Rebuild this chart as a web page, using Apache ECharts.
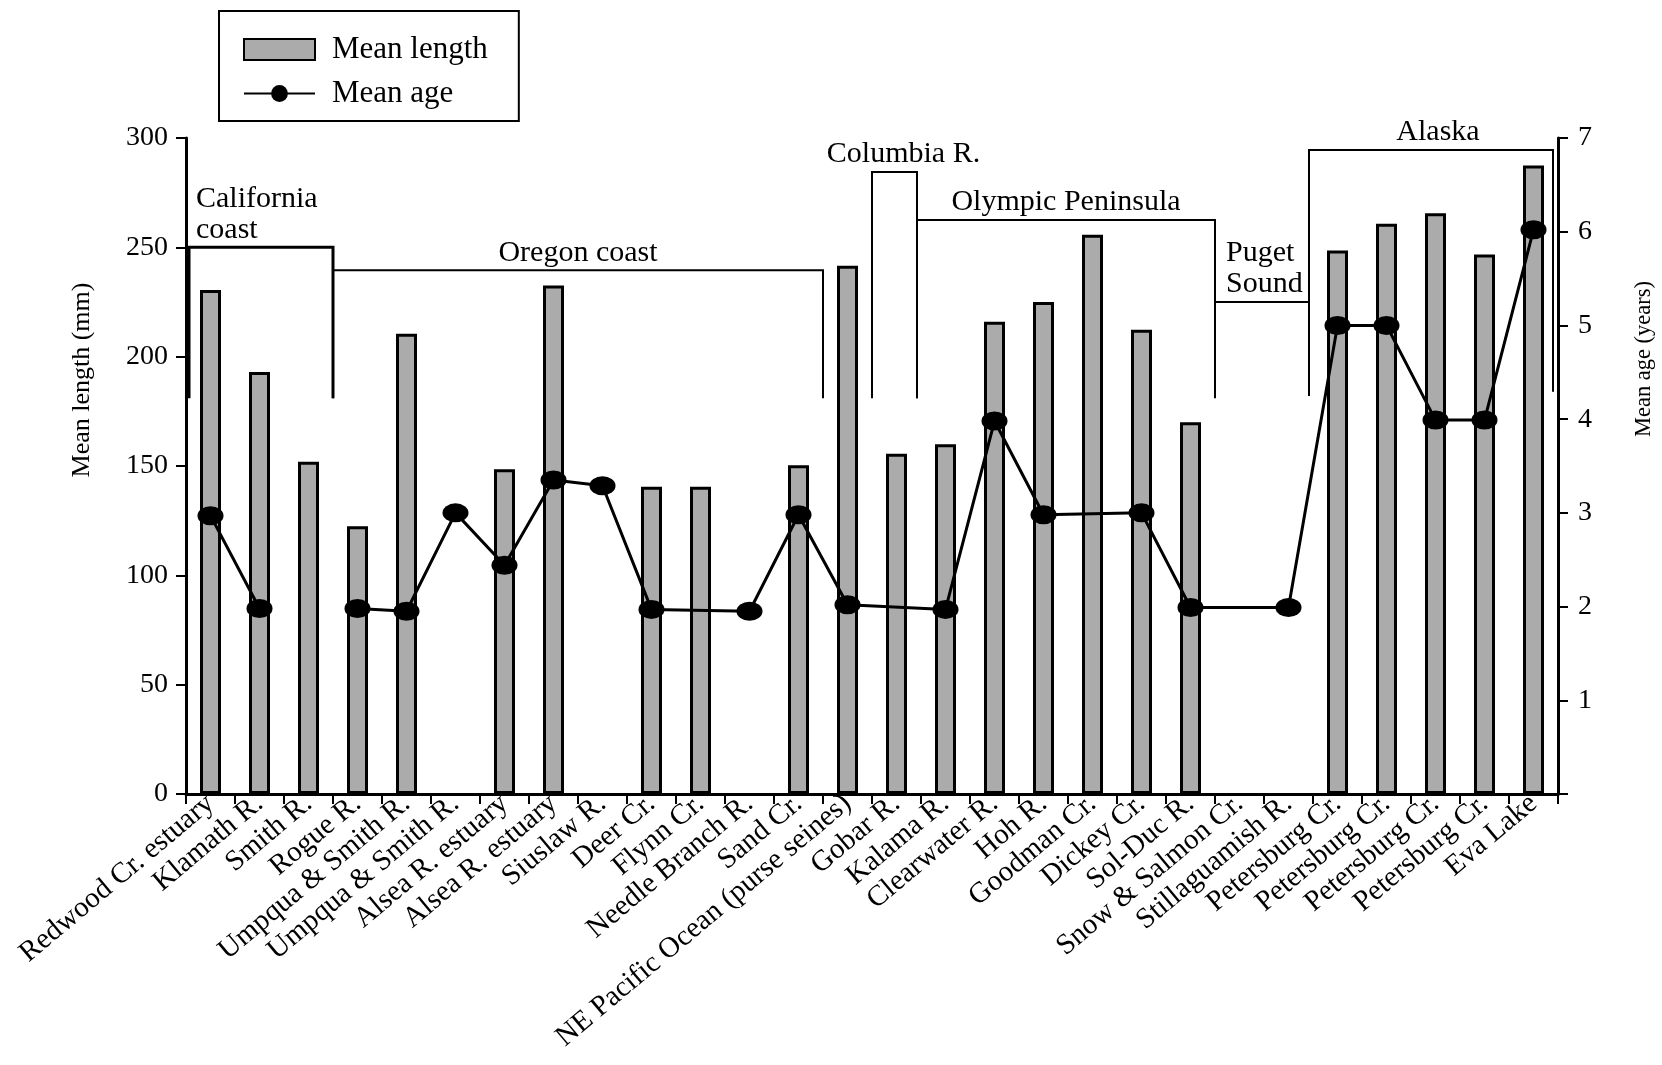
<!DOCTYPE html>
<html><head><meta charset="utf-8">
<script src="https://cdn.jsdelivr.net/npm/echarts@6/dist/echarts.min.js"></script>
<style>html,body{margin:0;padding:0;background:#fff}#c{width:1662px;height:1065px}</style>
</head><body><div id="c"></div>
<script>
// ---------- data ----------
const categories = [
  'Redwood Cr. estuary','Klamath R.','Smith R.','Rogue R.','Umpqua & Smith R.','Umpqua & Smith R.',
  'Alsea R. estuary','Alsea R. estuary','Siuslaw R.','Deer Cr.','Flynn Cr.','Needle Branch R.','Sand Cr.',
  'NE Pacific Ocean (purse seines)','Gobar R.','Kalama R.','Clearwater R.','Hoh R.','Goodman Cr.','Dickey Cr.',
  'Sol-Duc R.','Snow & Salmon Cr.','Stillaguamish R.','Petersburg Cr.','Petersburg Cr.','Petersburg Cr.',
  'Petersburg Cr.','Eva Lake'
];
const meanLength = [230.5,193,152,122.5,210.5,null,148.5,232.5,null,140.5,140.5,null,150.3,241.6,155.6,159.9,
  216,225,255.8,212.3,170,null,null,248.6,260.8,265.6,246.7,287.4];
const meanAge = [2.97,1.98,null,1.98,1.95,3.0,2.44,3.35,3.29,1.97,null,1.95,2.98,2.02,null,1.97,
  3.98,2.98,null,3.0,1.99,null,1.99,5.0,5.0,3.99,3.99,6.02];
// the age line is drawn as two pieces: it is broken after this category
const ageBreakAfter = 1;
const lengthTickLabels = ['0','50','100','150','200','250','300'];
const ageTickLabels = ['1','2','3','4','5','6','7'];
// region brackets (category index ranges, bracket heights in mm)
const regionNames = ['California\ncoast','Oregon coast','Columbia R.','Olympic Peninsula','Puget\nSound','Alaska'];
const regionFirst = [0,3,14,15,21,23];
const regionLast = [2,12,14,20,22,27];
const regionTop = [250,239.5,284.5,262.5,225,294.5];
const regionBottom = [181,181,181,181,182,184];

// ---------- styling helpers ----------
const FONT = '"Liberation Serif", "Times New Roman", serif';
const labelAlign = ['left','center','center','center','left','center'];
const labelDx = [7,0,9,0,11,7];
const leftNudge = [3,0,0,-4,0,-4];
const rightNudge = [0,0,-4,0,-4,-5];

function renderBracket(params, api) {
  const i = params.dataIndex;
  const bw = api.size([1, 0])[0];
  const xl = api.coord([regionFirst[i], 0])[0] - bw / 2 + leftNudge[i];
  const xr = api.coord([regionLast[i], 0])[0] + bw / 2 + rightNudge[i];
  const yt = api.coord([regionFirst[i], regionTop[i]])[1];
  const yb = api.coord([regionFirst[i], regionBottom[i]])[1];
  const tx = labelAlign[i] === 'left' ? xl + labelDx[i] : (xl + xr) / 2 + labelDx[i];
  return {
    type: 'group',
    children: [
      { type: 'polyline', shape: { points: [[xl, yb], [xl, yt], [xr, yt], [xr, yb]] },
        style: { stroke: '#000', lineWidth: i === 0 ? 3 : 2, fill: null } },
      { type: 'text', style: { text: regionNames[i], x: tx, y: yt - 2, font: '30px ' + FONT,
        fill: '#000', align: labelAlign[i], textAlign: labelAlign[i], verticalAlign: 'bottom',
        textVerticalAlign: 'bottom', lineHeight: 31 } }
    ]
  };
}

const chart = echarts.init(document.getElementById('c'), null, { renderer: 'canvas' });
chart.setOption({
  animation: false,
  backgroundColor: '#fff',
  grid: { left: 186, right: 104, top: 138, bottom: 271, outerBoundsMode: 'none', containLabel: false },
  legend: {
    orient: 'vertical', left: 219, top: 11,
    padding: [23, 31, 12, 24], itemGap: 13, itemWidth: 71, itemHeight: 21,
    borderColor: '#000', borderWidth: 2, backgroundColor: '#fff',
    textStyle: { fontFamily: FONT, fontSize: 31, color: '#000', padding: [0, 0, 0, 12] },
    data: [{ name: 'Mean length', icon: 'rect' }, { name: 'Mean age' }]
  },
  xAxis: {
    type: 'category', data: categories, boundaryGap: true,
    axisLine: { show: true, lineStyle: { color: '#000', width: 3 } },
    axisTick: { show: true, interval: 0, length: 10, lineStyle: { color: '#000', width: 2 } },
    axisLabel: { interval: 0, rotate: 40, fontFamily: FONT, fontSize: 29, color: '#000', margin: 6 },
    splitLine: { show: false }
  },
  yAxis: [
    {
      type: 'value', min: 0, max: 300, interval: 50, position: 'left',
      axisLine: { show: true, lineStyle: { color: '#000', width: 3 } },
      axisTick: { show: true, length: 10, lineStyle: { color: '#000', width: 2 } },
      axisLabel: { fontFamily: FONT, fontSize: 28, color: '#000', margin: 18,
        formatter: (v) => lengthTickLabels[Math.round(v / 50)] },
      splitLine: { show: false }
    },
    {
      type: 'value', min: 0, max: 7, interval: 1, position: 'right',
      axisLine: { show: true, lineStyle: { color: '#000', width: 3 } },
      axisTick: { show: true, length: 10, lineStyle: { color: '#000', width: 2 } },
      axisLabel: { fontFamily: FONT, fontSize: 28, color: '#000', margin: 20,
        formatter: (v) => v === 0 ? '' : ageTickLabels[Math.round(v) - 1] },
      splitLine: { show: false }
    }
  ],
  graphic: [
    { type: 'text', x: 82, y: 380, rotation: Math.PI / 2,
      style: { text: 'Mean length (mm)', font: '26px ' + FONT, fill: '#000', align: 'center', verticalAlign: 'middle' } },
    { type: 'text', x: 1644, y: 359, rotation: Math.PI / 2,
      style: { text: 'Mean age (years)', font: '22.5px ' + FONT, fill: '#000', align: 'center', verticalAlign: 'middle' } }
  ],
  series: [
    {
      name: 'Mean length', type: 'bar', yAxisIndex: 0, barWidth: 21, data: meanLength,
      itemStyle: { color: '#ababab', borderColor: '#000', borderWidth: 3 }, z: 2
    },
    {
      name: 'Mean age', type: 'line', yAxisIndex: 1, connectNulls: true,
      data: meanAge.map((v, i) => (i <= ageBreakAfter ? v : null)),
      symbol: 'circle', symbolSize: [26, 19], color: '#000',
      itemStyle: { color: '#000' }, lineStyle: { color: '#000', width: 3 }, z: 4
    },
    {
      name: 'Mean age', type: 'line', yAxisIndex: 1, connectNulls: true,
      data: meanAge.map((v, i) => (i > ageBreakAfter ? v : null)),
      symbol: 'circle', symbolSize: [26, 19], color: '#000',
      itemStyle: { color: '#000' }, lineStyle: { color: '#000', width: 3 }, z: 4
    },
    {
      name: 'regions', type: 'custom', xAxisIndex: 0, yAxisIndex: 0, clip: false,
      renderItem: renderBracket, z: 3, silent: true,
      encode: { x: 0, y: 2 },
      data: regionFirst.map((f, i) => [f, regionLast[i], regionTop[i], regionBottom[i]])
    }
  ]
});
</script>
</body></html>
